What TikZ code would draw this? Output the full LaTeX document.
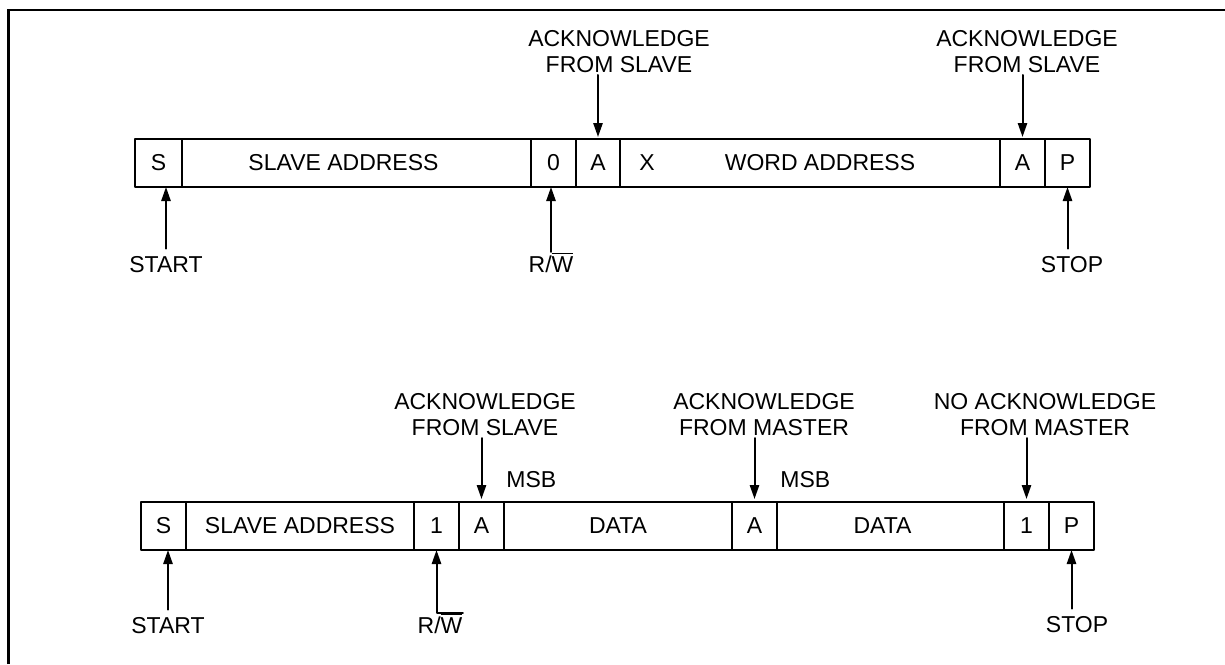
\documentclass[tikz,border=0pt]{standalone}
\usepackage{fontspec}
\setmainfont{Liberation Sans}
\usetikzlibrary{arrows.meta}
\usetikzlibrary{positioning}

\tikzset{
	cell/.style={draw,line width=1pt,minimum height=24pt,inner sep=0pt,outer sep=0pt,anchor=west},
	note/.style={align=center,inner sep=0pt},
	tag/.style={inner sep=0pt,anchor=base},
	pointer/.style={->,line width=1pt},
}

\begin{document}
\begin{tikzpicture}[line cap=round,line join=round,>={Triangle[length=7pt,width=4.6pt]},x=0.5pt,y=-0.5pt,font=\fontsize{11.5}{13}\selectfont]
		\useasboundingbox (0,0) rectangle (1225,664);
		\draw [line width=1.4pt,line join=miter,line cap=butt] (8.5,664) -- (8.5,10) -- (1225,10);

		% write word address
		\node[cell,minimum width=23.5pt,anchor=north west] (s1) at (135,139) {S};
		\node[cell,minimum width=174.5pt,right=0pt of s1] (sa1) {};
		\node[cell,minimum width=22.5pt,right=0pt of sa1] (zero1) {0};
		\node[cell,minimum width=22pt,right=0pt of zero1] (a1) {A};
		\node[cell,minimum width=190pt,right=0pt of a1] (wa1) {};
		\node[cell,minimum width=22.5pt,right=0pt of wa1] (a2) {A};
		\node[cell,minimum width=22.5pt,right=0pt of a2] (p1) {P};
		\node (sa1t) at ([xshift=-6.5pt]sa1.center) {SLAVE ADDRESS};
		\node (x1) at ([xshift=13.5pt]wa1.west) {X};
		\node (wa1t) at ([xshift=5pt]wa1.center) {WORD ADDRESS};

		\node[note,anchor=south] (ack1) at (619,73) {ACKNOWLEDGE\\FROM SLAVE};
		\node[note,anchor=south] (ack2) at (1027,73) {ACKNOWLEDGE\\FROM SLAVE};
		\node[tag] (start1) at (166,272) {START};
		\node[tag] (rw1) at (551,272) {R/$\overline{\mbox{W}}$};
		\node[tag] (stop1) at (1072,272) {STOP};

		\draw [pointer,shorten >=1pt] ([yshift=-1pt]a1.north |- ack1.south) -- (a1.north);
		\draw [pointer,shorten >=1pt] ([yshift=-1pt]a2.north |- ack2.south) -- (a2.north);
		\draw [pointer] ([yshift=3.5pt]start1.north) -- (start1.north |- s1.south);
		\draw [pointer] (rw1.north) -- (rw1.north |- zero1.south);
		\draw [pointer] (p1.south |- stop1.north) ++(0,-7) -- (p1.south);

		% sequential read
		\node[cell,minimum width=22.5pt,anchor=north west] (s2) at (141,502) {S};
		\node[cell,minimum width=114pt,right=0pt of s2] (sa2) {SLAVE ADDRESS};
		\node[cell,minimum width=22.5pt,right=0pt of sa2] (one2) {1};
		\node[cell,minimum width=22.5pt,right=0pt of one2] (a3) {A};
		\node[cell,minimum width=114pt,right=0pt of a3] (d1) {DATA};
		\node[cell,minimum width=22.5pt,right=0pt of d1] (a4) {A};
		\node[cell,minimum width=113.5pt,right=0pt of a4] (d2) {};
		\node[cell,minimum width=22.5pt,right=0pt of d2] (one3) {1};
		\node[cell,minimum width=22.5pt,right=0pt of one3] (p2) {P};
		\node (d2t) at ([xshift=-4pt]d2.center) {DATA};

		\node[tag,anchor=base west] (msb1) at (506,487) {MSB};
		\node[tag,anchor=base west] (msb2) at (780,487) {MSB};
		\node[note,anchor=south] (ack3) at (485,436) {ACKNOWLEDGE\\FROM SLAVE};
		\node[note,anchor=south] (ack4) at (764,436) {ACKNOWLEDGE\\FROM MASTER};
		\node[note,anchor=south] (ack5) at (1045,436) {NO ACKNOWLEDGE\\FROM MASTER};
		\node[tag] (start2) at (168,633) {START};
		\node[tag] (rw2) at (440,633) {R/$\overline{\mbox{W}}$};
		\node[tag] (stop2) at (1077,632) {STOP};

		\draw [pointer,shorten >=1.5pt] ([yshift=-1pt]a3.north |- ack3.south) -- (a3.north);
		\draw [pointer,shorten >=1.5pt] ([yshift=-1pt]a4.north |- ack4.south) -- (a4.north);
		\draw [pointer,shorten >=1.5pt] ([yshift=-1pt]one3.north |- ack5.south) -- (one3.north);
		\draw [pointer] ([yshift=3.5pt]start2.north) -- (start2.north |- s2.south);
		\draw [pointer] (rw2.north east) -- (rw2.north -| one2.south) -- (one2.south);
		\draw [pointer] (p2.south |- stop2.north) ++(0,-7) -- (p2.south);
\end{tikzpicture}
\end{document}
